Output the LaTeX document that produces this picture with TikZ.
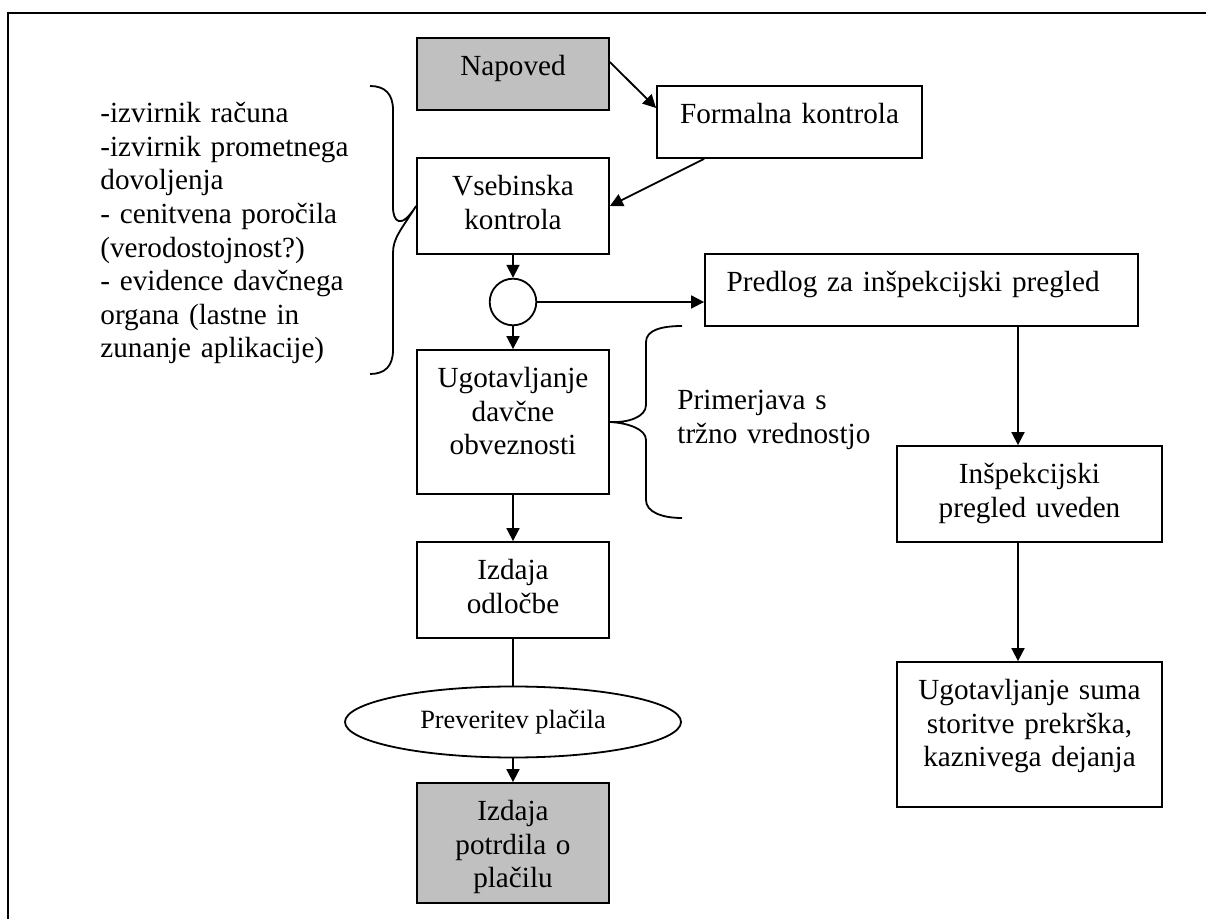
\documentclass[tikz,border=0pt]{standalone}
\usepackage{fontspec}
\setmainfont{Liberation Serif}
\usetikzlibrary{arrows.meta,calc,shapes.geometric}
\definecolor{boxgray}{HTML}{C0C0C0}
\begin{document}
\begin{tikzpicture}[x=0.5pt,y=-0.5pt,
  txt/.style={font=\fontsize{14.6pt}{16.8pt}\selectfont},
  stepbox/.style={draw, line width=0.9pt, inner sep=0pt, align=center, txt, text height=18.8pt},
  colw/.style={text width=96pt},
  sidew/.style={text width=132.5pt},
  arr/.style={line width=0.9pt, -{Triangle[length=6.5pt,width=6.5pt]}},
  plain/.style={line width=0.9pt},
  bracepath/.style={line width=0.9pt}]
\useasboundingbox (0,0) rectangle (1206,919);

% outer frame (top and left edges)
\draw[line width=1pt] (1206,13) -- (8,13) -- (8,919);

% main column
\node[stepbox, colw, fill=boxgray, text depth=17.2pt] (nap) at (513,74) {Napoved};
\node[stepbox, sidew, text depth=17.2pt] (formal) at (789.5,122) {Formalna kontrola};
\node[stepbox, colw, text depth=29.2pt] (vseb) at (513,206) {Vsebinska\\kontrola};
\node[draw, line width=0.9pt, circle, minimum size=23.3pt, inner sep=0pt] (circ) at (513,302) {};
\node[stepbox, text width=216.5pt, align=left, text depth=17.2pt] (predlog) at (921.5,290) {\hspace*{10.8pt}Predlog za inšpekcijski pregled};
\node[stepbox, colw, text depth=53.2pt] (ugot) at (513,422) {Ugotavljanje\\davčne\\obveznosti};
\node[stepbox, colw, text depth=29.2pt] (izd) at (513,590) {Izdaja\\odločbe};
\node[draw, line width=0.9pt, ellipse, minimum width=168pt, minimum height=35.5pt, inner sep=0pt,
      font=\fontsize{13.2pt}{15pt}\selectfont] (ell) at (513,722) {Preveritev plačila};
\node[stepbox, colw, fill=boxgray, text depth=41.2pt] (potr) at (513,843) {Izdaja\\potrdila o\\plačilu};

% inspection branch
\node[stepbox, sidew, text depth=29.2pt] (insp) at (1029.5,494) {Inšpekcijski\\pregled uveden};
\node[stepbox, sidew, text depth=53.7pt] (suma) at (1029.5,734.5) {Ugotavljanje suma\\storitve prekrška,\\kaznivega dejanja};
\coordinate (axr) at (1018,0);

% notes beside the braces
\node[txt, text width=140pt, align=left, inner sep=0pt, anchor=base west] (docs) at (100,122.7)
  {-izvirnik računa\\-izvirnik prometnega\\dovoljenja\\- cenitvena poročila\\(verodostojnost?)\\- evidence davčnega\\organa (lastne in\\zunanje aplikacije)};
\node[txt, text width=110pt, align=left, inner sep=0pt, anchor=base west] (cmp) at (677,410)
  {Primerjava s\\tržno vrednostjo};

% connectors
\draw[arr] ($(nap.east)+(0,-12)$) -- ($(formal.west)+(0,-14)$);
\draw[arr] ($(formal.south west)+(48,0)$) -- (vseb.east);
\draw[arr] (vseb.south) -- (circ.north);
\draw[arr] (circ.east) -- (circ.east -| predlog.west);
\draw[arr] (circ.south) -- (ugot.north);
\draw[arr] (ugot.south) -- (izd.north);
\draw[plain] (izd.south) -- (ell.north);
\draw[arr] (ell.south) -- (potr.north);
\draw[arr] (predlog.south -| axr) -- (insp.north -| axr);
\draw[arr] (insp.south -| axr) -- (suma.north -| axr);

% braces
\draw[bracepath] (370,86) .. controls (385,86) and (393,94) .. (393,110) -- (393,207)
  .. controls (393,222) and (401,230) .. (vseb.west)
  .. controls (401,230) and (393,238) .. (393,253) -- (393,350)
  .. controls (393,366) and (385,374) .. (370,374);
\draw[bracepath] (682,326) .. controls (662,326) and (646,330) .. (646,342) -- (646,405)
  .. controls (646,417) and (628,423) .. (ugot.east)
  .. controls (628,423) and (646,429) .. (646,440) -- (646,500)
  .. controls (646,512) and (662,518) .. (682,518);
\end{tikzpicture}
\end{document}
